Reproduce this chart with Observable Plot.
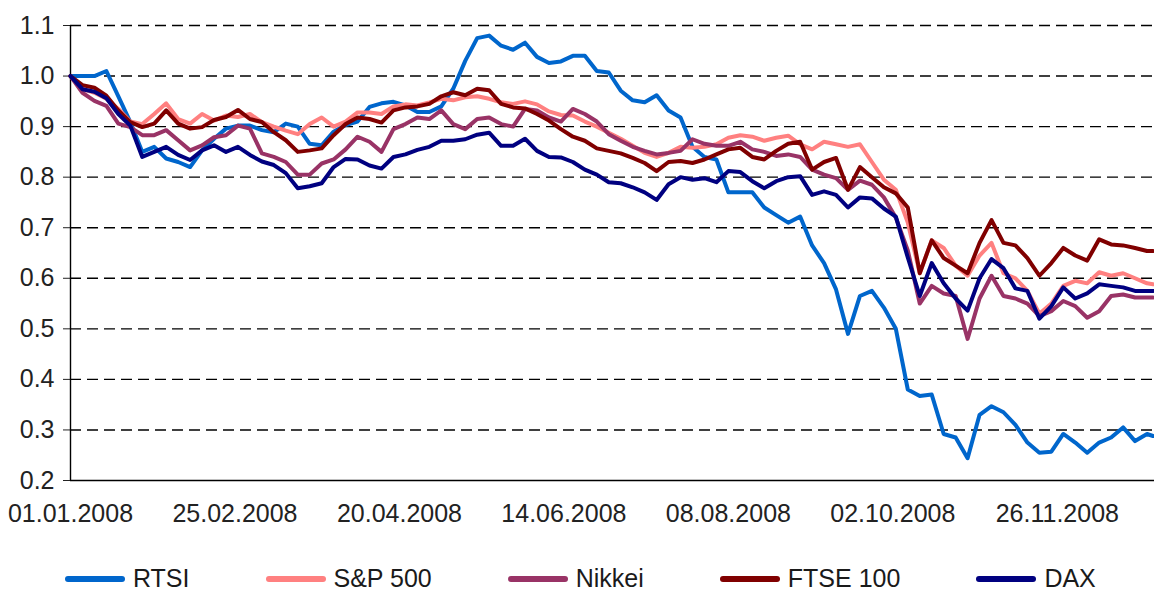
<!DOCTYPE html>
<html><head><meta charset="utf-8">
<script src="https://cdn.jsdelivr.net/npm/d3@7"></script>
<script src="https://cdn.jsdelivr.net/npm/@observablehq/plot@0.6"></script>
<style>
body{margin:0;background:#fff;font-family:"Liberation Sans",Arial,sans-serif;}
#wrap{position:relative;width:1154px;height:594px;overflow:hidden;background:#fff;}
#legend{position:absolute;left:65px;top:566px;display:flex;gap:76px;font-size:25px;line-height:25px;color:#1a1a1a;white-space:nowrap;}
.item{display:flex;align-items:center;}
.sw{width:60px;height:6px;border-radius:3px;margin-right:8px;}
</style></head><body><div id="wrap"><div id="chart"></div><div id="legend"></div></div>
<script>
const dates = ["2008-01-01","2008-01-05","2008-01-09","2008-01-13","2008-01-17","2008-01-21","2008-01-25","2008-01-29",
"2008-02-02","2008-02-06","2008-02-10","2008-02-14","2008-02-18","2008-02-22","2008-02-26",
"2008-03-01","2008-03-05","2008-03-09","2008-03-13","2008-03-17","2008-03-21","2008-03-25","2008-03-29",
"2008-04-02","2008-04-06","2008-04-10","2008-04-14","2008-04-18","2008-04-22","2008-04-26","2008-04-30",
"2008-05-04","2008-05-08","2008-05-12","2008-05-16","2008-05-20","2008-05-24","2008-05-28",
"2008-06-01","2008-06-05","2008-06-09","2008-06-13","2008-06-17","2008-06-21","2008-06-25","2008-06-29",
"2008-07-03","2008-07-07","2008-07-11","2008-07-15","2008-07-19","2008-07-23","2008-07-27","2008-07-31",
"2008-08-04","2008-08-08","2008-08-12","2008-08-16","2008-08-20","2008-08-24","2008-08-28",
"2008-09-01","2008-09-05","2008-09-09","2008-09-13","2008-09-17","2008-09-21","2008-09-25","2008-09-29",
"2008-10-03","2008-10-07","2008-10-11","2008-10-15","2008-10-19","2008-10-23","2008-10-27","2008-10-31",
"2008-11-04","2008-11-08","2008-11-12","2008-11-16","2008-11-20","2008-11-24","2008-11-28",
"2008-12-02","2008-12-06","2008-12-10","2008-12-14","2008-12-18","2008-12-22","2008-12-26","2008-12-28"];

const rtsi = [1.0,1.0,1.0,1.01,0.96,0.909,0.85,0.86,
0.837,0.83,0.82,0.853,0.876,0.896,0.902,
0.902,0.893,0.889,0.906,0.9,0.866,0.863,0.89,
0.903,0.91,0.939,0.946,0.949,0.942,0.929,0.929,
0.94,0.975,1.03,1.075,1.08,1.06,1.052,
1.066,1.038,1.026,1.029,1.04,1.04,1.01,1.007,
0.971,0.952,0.948,0.962,0.932,0.918,0.86,0.84,
0.835,0.77,0.77,0.77,0.74,0.725,0.71,
0.722,0.665,0.63,0.578,0.49,0.565,0.575,0.542,
0.5,0.38,0.367,0.37,0.292,0.285,0.244,0.33,
0.347,0.335,0.31,0.275,0.255,0.257,0.292,
0.275,0.255,0.275,0.285,0.305,0.278,0.292,0.288];

const sp500 = [1.0,0.974,0.967,0.955,0.935,0.91,0.905,0.925,
0.946,0.915,0.906,0.925,0.912,0.922,0.919,
0.925,0.909,0.9,0.892,0.885,0.905,0.918,0.9,
0.91,0.928,0.928,0.925,0.94,0.944,0.942,0.948,
0.955,0.952,0.958,0.96,0.955,0.948,0.945,
0.95,0.944,0.93,0.923,0.922,0.91,0.9,0.888,
0.876,0.862,0.848,0.84,0.848,0.86,0.858,0.86,
0.865,0.878,0.883,0.88,0.872,0.878,0.882,
0.865,0.855,0.87,0.865,0.86,0.865,0.83,0.795,
0.775,0.71,0.61,0.675,0.66,0.625,0.605,0.645,
0.67,0.61,0.6,0.575,0.53,0.55,0.585,
0.595,0.59,0.612,0.605,0.61,0.6,0.59,0.588];

const nikkei = [1.0,0.967,0.951,0.941,0.906,0.899,0.883,0.883,
0.893,0.873,0.853,0.863,0.879,0.883,0.902,
0.896,0.847,0.84,0.83,0.805,0.805,0.827,0.835,
0.855,0.88,0.87,0.85,0.895,0.905,0.918,0.915,
0.932,0.905,0.895,0.915,0.918,0.905,0.9,
0.935,0.932,0.918,0.91,0.935,0.925,0.91,0.885,
0.872,0.86,0.852,0.845,0.848,0.852,0.875,0.866,
0.862,0.862,0.87,0.855,0.85,0.842,0.845,
0.84,0.815,0.805,0.798,0.775,0.793,0.785,0.76,
0.72,0.655,0.55,0.585,0.57,0.565,0.48,0.56,
0.605,0.565,0.56,0.55,0.525,0.535,0.555,
0.545,0.522,0.535,0.565,0.568,0.562,0.562,0.562];

const ftse = [1.0,0.982,0.977,0.961,0.932,0.909,0.899,0.906,
0.932,0.906,0.896,0.899,0.913,0.919,0.933,
0.915,0.909,0.889,0.873,0.85,0.853,0.857,0.883,
0.905,0.918,0.915,0.908,0.932,0.938,0.94,0.945,
0.96,0.968,0.962,0.975,0.972,0.945,0.938,
0.936,0.925,0.912,0.895,0.88,0.872,0.857,0.852,
0.847,0.838,0.828,0.812,0.83,0.832,0.828,0.835,
0.845,0.855,0.858,0.84,0.835,0.852,0.866,
0.87,0.815,0.83,0.838,0.775,0.82,0.8,0.78,
0.768,0.74,0.61,0.675,0.64,0.625,0.61,0.67,
0.715,0.67,0.665,0.64,0.605,0.63,0.66,
0.645,0.635,0.677,0.667,0.665,0.66,0.654,0.654];

const dax = [1.0,0.974,0.969,0.956,0.925,0.902,0.84,0.85,
0.86,0.844,0.834,0.853,0.863,0.85,0.86,
0.844,0.831,0.824,0.808,0.778,0.782,0.788,0.82,
0.836,0.835,0.823,0.817,0.84,0.845,0.854,0.86,
0.872,0.872,0.875,0.884,0.888,0.862,0.862,
0.876,0.852,0.84,0.839,0.83,0.815,0.805,0.79,
0.788,0.78,0.77,0.755,0.786,0.8,0.795,0.798,
0.79,0.812,0.81,0.792,0.778,0.792,0.8,
0.802,0.765,0.772,0.765,0.74,0.76,0.758,0.738,
0.722,0.641,0.565,0.63,0.59,0.56,0.536,0.6,
0.638,0.62,0.58,0.575,0.52,0.545,0.582,
0.56,0.57,0.588,0.585,0.582,0.575,0.575,0.575];

const seriesNames = ["RTSI","S&P 500","Nikkei","FTSE 100","DAX"];
const seriesValues = [rtsi, sp500, nikkei, ftse, dax];
const yTicks = [0.2,0.3,0.4,0.5,0.6,0.7,0.8,0.9,1.0,1.1];
const xTickDates = ["2008-01-01","2008-02-25","2008-04-20","2008-06-14","2008-08-08","2008-10-02","2008-11-26"];

const colors = ["#0066CC","#FF8080","#993366","#800000","#000080"];
const parse = d3.utcParse("%Y-%m-%d");

const rows = [];
seriesNames.forEach((name, k) => {
  seriesValues[k].forEach((v, i) => rows.push({series: name, date: parse(dates[i]), value: v}));
});

const lineMarks = seriesNames.map((name, k) =>
  Plot.line(rows.filter(r => r.series === name), {
    x: "date", y: "value", stroke: colors[k], strokeWidth: 4,
    strokeLinejoin: "round", strokeLinecap: "round"
  })
);

const chart = Plot.plot({
  width: 1154, height: 535,
  marginLeft: 70, marginRight: 0, marginTop: 25, marginBottom: 55,
  style: {fontFamily: '"Liberation Sans", Arial, sans-serif', fontSize: "25px", color: "#222", background: "#fff"},
  x: {type: "utc", domain: [parse("2008-01-01"), new Date(Date.UTC(2008, 11, 28, 12))],
      ticks: xTickDates.map(parse), tickFormat: d3.utcFormat("%d.%m.%Y"),
      tickSize: 0, tickPadding: 24, label: null},
  y: {domain: [0.2, 1.1], ticks: yTicks, tickFormat: d3.format(".1f"),
      tickSize: 7, tickPadding: 9, label: null},
  marks: [
    Plot.ruleY(yTicks.filter(d => d > 0.2), {stroke: "#000", strokeWidth: 1.4, strokeDasharray: "11,6"}),
    Plot.ruleX([parse("2008-01-01")], {stroke: "#000", strokeWidth: 1.4}),
    Plot.ruleY([0.2], {stroke: "#000", strokeWidth: 1.4}),
    ...lineMarks
  ]
});
document.getElementById("chart").appendChild(chart);

const legend = document.getElementById("legend");
seriesNames.forEach((name, k) => {
  const item = document.createElement("div");
  item.className = "item";
  const sw = document.createElement("div");
  sw.className = "sw";
  sw.style.background = colors[k];
  const label = document.createElement("span");
  label.textContent = name;
  item.appendChild(sw);
  item.appendChild(label);
  legend.appendChild(item);
});
</script></body></html>
